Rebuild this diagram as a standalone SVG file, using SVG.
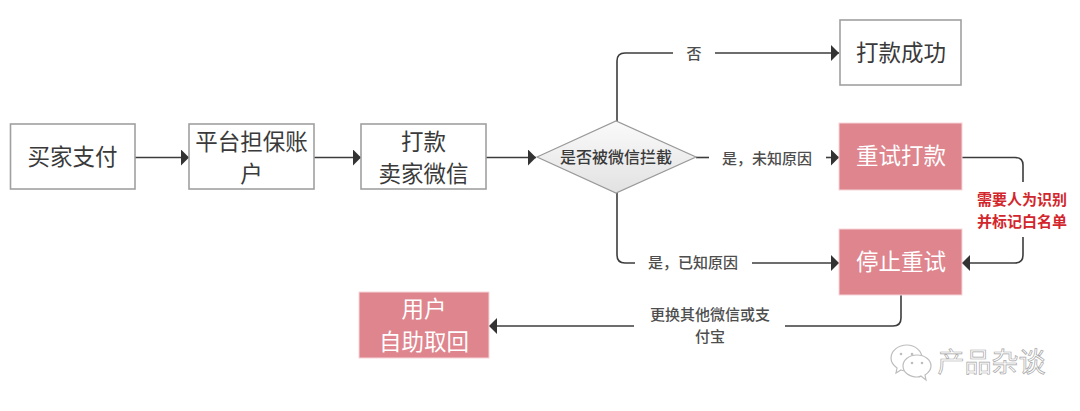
<svg xmlns="http://www.w3.org/2000/svg" width="1080" height="411" viewBox="0 0 1080 411">
<defs>
<style>
text{font-family:"Noto Sans CJK SC","Noto Sans",sans-serif;text-anchor:middle}
.box{fill:#fff;stroke:#a0a0a0;stroke-width:1.6}
.pink{fill:#de858e;stroke:#f6d5d8;stroke-width:1}
.t{font-size:22.500px;fill:#3a3a3a}
.w{font-size:22.500px;fill:#fff}
.e{font-size:15px;fill:#4d4d4d;font-weight:500}
.r{font-size:15px;fill:#d3262c;font-weight:700}
.c{fill:none;stroke:#3c3c3c;stroke-width:1.6}
.wm{font-size:27px;fill:#fff;stroke:#a8a8a8;stroke-width:.7}
.ic{fill:#fff;stroke:#bdbdbd;stroke-width:1.2}
.eye{fill:#bdbdbd}
</style>
<marker id="a" markerUnits="userSpaceOnUse" markerWidth="8" markerHeight="16" refX="8" refY="8" orient="auto"><path d="M0 0L8 8L0 16Z" fill="#333"/></marker>
<linearGradient id="g" x1="0" y1="0" x2="0" y2="1"><stop offset="0" stop-color="#fafafa"/><stop offset="1" stop-color="#e2e2e2"/></linearGradient>
</defs>
<rect width="1080" height="411" fill="#fff"/>
<g id="connectors">
<path class="c" marker-end="url(#a)" d="M135 157.500H189"/>
<path class="c" marker-end="url(#a)" d="M314 157.500H361"/>
<path class="c" marker-end="url(#a)" d="M486 157.500H536"/>
<path class="c" d="M617 121V61Q617 53 625 53H673"/>
<path class="c" marker-end="url(#a)" d="M715 53H839"/>
<path class="c" d="M696 157.500H709"/>
<path class="c" marker-end="url(#a)" d="M826 157.500H839"/>
<path class="c" d="M617 193V255Q617 263 625 263H635"/>
<path class="c" marker-end="url(#a)" d="M752 263H839"/>
<path class="c" d="M962 157.500H1015Q1023 157.500 1023 165V182"/>
<path class="c" marker-end="url(#a)" d="M1023 237V255Q1023 263 1015 263H962"/>
<path class="c" d="M901 295V318Q901 326 893 326H785"/>
<path class="c" marker-end="url(#a)" d="M634 326H489"/>
</g>
<g id="n1"><rect class="box" x="10.500" y="124" width="124.500" height="65"/><text class="t" x="72.500" y="165">买家支付</text></g>
<g id="n2"><rect class="box" x="189" y="124" width="125" height="65"/><text class="t" x="251.500" y="150">平台担保账</text><text class="t" x="251.500" y="182">户</text></g>
<g id="n3"><rect class="box" x="361" y="124" width="125" height="65"/><text class="t" x="423.500" y="150">打款</text><text class="t" x="423.500" y="182">卖家微信</text></g>
<g id="n4"><path d="M537 157L616 121L696 157L616 193Z" fill="url(#g)" stroke="#999" stroke-width="1.200"/><text x="616" y="163" font-size="16" font-weight="500" fill="#3a3a3a">是否被微信拦截</text></g>
<g id="n5"><rect class="box" x="840" y="20" width="121" height="65"/><text class="t" x="901" y="61">打款成功</text></g>
<g id="n6"><rect class="pink" x="839" y="123" width="123" height="67"/><text class="w" x="901" y="164">重试打款</text></g>
<g id="n7"><rect class="pink" x="839" y="229" width="123" height="66"/><text class="w" x="901" y="270">停止重试</text></g>
<g id="n8"><rect class="pink" x="359" y="292" width="130" height="66"/><text class="w" x="424" y="317">用户</text><text class="w" x="424" y="350">自助取回</text></g>
<g id="labels">
<text class="e" x="694" y="59">否</text>
<text class="e" x="767" y="164">是，未知原因</text>
<text class="e" x="693" y="268">是，已知原因</text>
<text class="e" x="710" y="320">更换其他微信或支</text>
<text class="e" x="710" y="342">付宝</text>
<text class="r" x="1022" y="205">需要人为识别</text>
<text class="r" x="1022" y="227">并标记白名单</text>
</g>
<g id="watermark">
<path class="ic" d="M907 345c-9 0-16 6-16 13 0 4 2 7 6 10l-1 5 5-3c2 1 4 1 6 1c8 0 15-6 15-13 0-7-7-13-15-13Z"/>
<circle class="eye" cx="901" cy="354" r="1.300"/><circle class="eye" cx="912" cy="354" r="1.300"/>
<path class="ic" d="M917 355c-8 0-14 5-14 11 0 6 6 11 14 11 2 0 3 0 4-1l5 4-1-5c3-2 6-5 6-9 0-6-6-11-14-11Z"/>
<circle class="eye" cx="912" cy="363" r="1.300"/><circle class="eye" cx="922" cy="363" r="1.300"/>
<text class="wm" x="991.500" y="372">产品杂谈</text>
</g>
</svg>
